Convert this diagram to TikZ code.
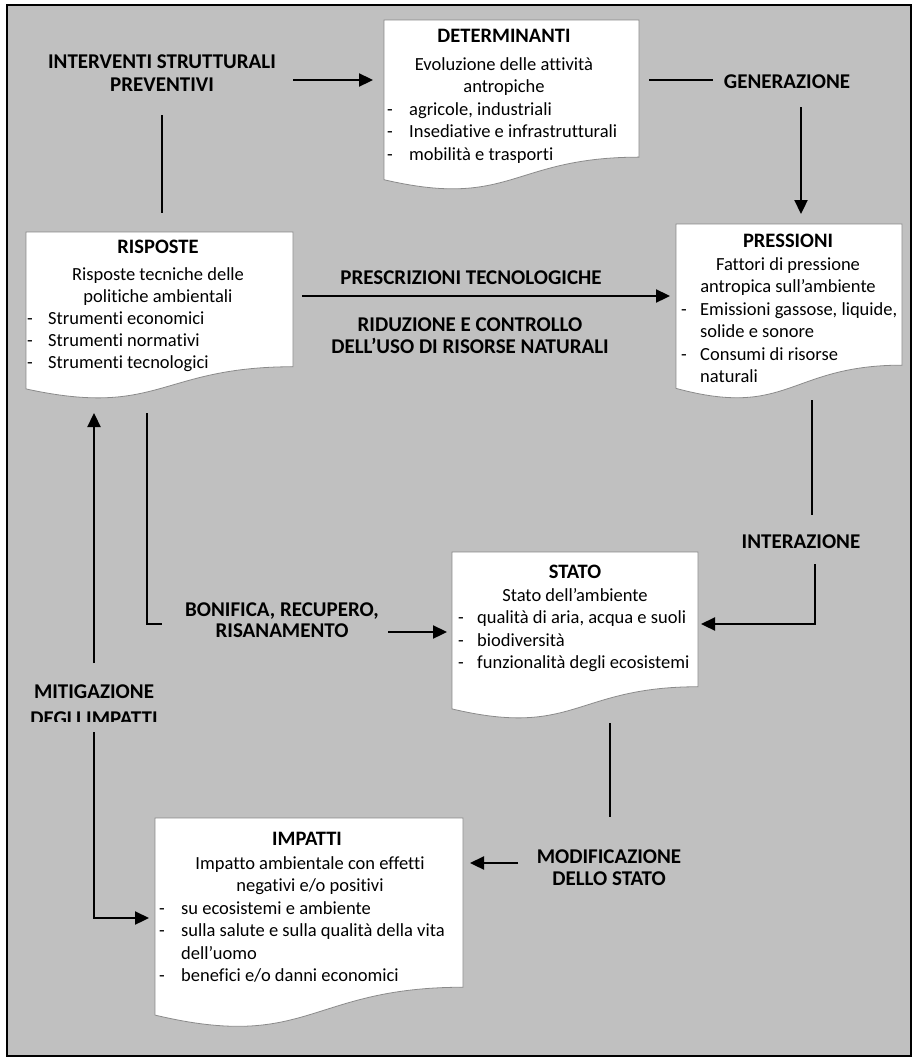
\documentclass[tikz,border=0pt]{standalone}
\usepackage{fontspec}
\setmainfont{Carlito}[Ligatures={NoCommon,NoContextual}]
\usetikzlibrary{arrows.meta}
\definecolor{bg}{HTML}{C0C0C0}
\definecolor{docline}{HTML}{8A8A8A}
% document shape: name, x0, y0, x1, h
\newcommand\docshp[5]{%
  \path[docshape] (#2,#3) -- (#4,#3) -- (#4,{#3+0.802*#5})
    .. controls ({(#2+#4)/2},{#3+0.802*#5}) and ({(#2+#4)/2},{#3+1.1075*#5}) .. (#2,{#3+0.934*#5}) -- cycle;
  \coordinate (#1) at ({(#2+#4)/2},#3);}
% list item: name, dash x, text x, baseline y, text
\newcommand\itmline[5]{%
  \node[itm] (#1d) at (#2,#4) {-};
  \node[itm] (#1) at (#3,#4) {#5};}
\begin{document}
\begin{tikzpicture}[x=1pt,y=-1pt,
  ttl/.style={font=\bfseries\fontsize{20.5}{22}\selectfont, anchor=base, inner sep=0},
  txt/.style={font=\fontsize{18.5}{22}\selectfont, anchor=base, inner sep=0},
  itm/.style={txt, anchor=base west},
  lbl/.style={font=\bfseries\fontsize{21}{22}\selectfont, anchor=base, inner sep=0},
  conn/.style={line width=2.3pt, draw=black},
  arr/.style={conn, -{Triangle[length=14pt,width=13pt]}},
  docshape/.style={fill=white, draw=docline, line width=0.8pt}]
\path[use as bounding box] (0,0) rectangle (914,1060);
\draw[fill=bg, draw=black, line width=1.2pt] (7,5) rectangle (911,1056);

% ---------- document shapes ----------
\docshp{det}{384}{20}{639}{171}
\docshp{risp}{26}{232}{293}{168}
\docshp{press}{676}{224}{902}{176}
\docshp{stato}{452}{552}{698}{168}
\docshp{imp}{155}{818}{463}{211}

% DETERMINANTI
\node[ttl] (detT) at (504,42) {DETERMINANTI};
\node[txt] (det1) at (504,70) {Evoluzione delle attività};
\node[txt] (det2) at (504,92) {antropiche};
\itmline{det3}{387}{409}{115}{agricole, industriali}
\itmline{det4}{387}{409}{137.5}{Insediative e infrastrutturali}
\itmline{det5}{387}{409}{160}{mobilità e trasporti}

% RISPOSTE
\node[ttl] (rispT) at (158,253) {RISPOSTE};
\node[txt] (risp1) at (158,280) {Risposte tecniche delle};
\node[txt] (risp2) at (158,302) {politiche ambientali};
\itmline{risp3}{27}{48}{324}{Strumenti economici}
\itmline{risp4}{27}{48}{346}{Strumenti normativi}
\itmline{risp5}{27}{48}{368}{Strumenti tecnologici}

% PRESSIONI
\node[ttl] (pressT) at (788,247) {PRESSIONI};
\node[txt] (press1) at (788,270) {Fattori di pressione};
\node[txt] (press2) at (788,292.5) {antropica sull’ambiente};
\itmline{press3}{681}{700}{315}{Emissioni gassose, liquide,}
\node[itm] (press4) at (700,337.5) {solide e sonore};
\itmline{press5}{681}{700}{360}{Consumi di risorse}
\node[itm] (press6) at (700,382.5) {naturali};

% STATO
\node[ttl] (statoT) at (575,578) {STATO};
\node[txt] (stato1) at (575,601) {Stato dell’ambiente};
\itmline{stato2}{458}{477}{623.5}{qualità di aria, acqua e suoli}
\itmline{stato3}{458}{477}{646}{biodiversità}
\itmline{stato4}{458}{477}{668.5}{funzionalità degli ecosistemi}

% IMPATTI
\node[ttl] (impT) at (307,845) {IMPATTI};
\node[txt] (imp1) at (310,869) {Impatto ambientale con effetti};
\node[txt] (imp2) at (310,891.5) {negativi e/o positivi};
\itmline{imp3}{159}{181}{914}{su ecosistemi e ambiente}
\itmline{imp4}{159}{181}{936.5}{sulla salute e sulla qualità della vita}
\node[itm] (imp5) at (181,959) {dell’uomo};
\itmline{imp6}{159}{181}{981.5}{benefici e/o danni economici}

% ---------- labels ----------
\node[lbl] (intA) at (162,68) {INTERVENTI STRUTTURALI};
\node[lbl] (intB) at (162,91) {PREVENTIVI};
\node[lbl] (gen) at (787,88) {GENERAZIONE};
\node[lbl] (presc) at (471,284) {PRESCRIZIONI TECNOLOGICHE};
\node[lbl] (ridA) at (470,331) {RIDUZIONE E CONTROLLO};
\node[lbl] (ridB) at (470,353) {DELL’USO DI RISORSE NATURALI};
\node[lbl] (inter) at (801,548) {INTERAZIONE};
\node[lbl] (bonA) at (282,616) {BONIFICA, RECUPERO,};
\node[lbl] (bonB) at (282,637) {RISANAMENTO};
\node[lbl] (mitA) at (94,698) {MITIGAZIONE};
\begin{scope}
  \clip (10,700) rectangle (300,721);
  \node[lbl] (mitB) at (94,725) {DEGLI IMPATTI};
\end{scope}
\node[lbl] (modA) at (609,863) {MODIFICAZIONE};
\node[lbl] (modB) at (609,885) {DELLO STATO};

% ---------- connector end points ----------
\coordinate (c1s) at (293,80);  \coordinate (c1e) at (373,80);
\coordinate (c2s) at (162,115); \coordinate (c2e) at (162,213);
\coordinate (c3s) at (649,80);  \coordinate (c3e) at (713,80);
\coordinate (c4s) at (801,107); \coordinate (c4e) at (801,214);
\coordinate (c5s) at (302,296); \coordinate (c5e) at (670,296);
\coordinate (c6s) at (812,400); \coordinate (c6e) at (812,515);
\coordinate (c7s) at (815,564); \coordinate (c7m) at (815,624); \coordinate (c7e) at (701,624);
\coordinate (c8s) at (147,413); \coordinate (c8m) at (147,624); \coordinate (c8e) at (162,624);
\coordinate (c9s) at (388,632); \coordinate (c9e) at (447,632);
\coordinate (c10s) at (94,663); \coordinate (c10e) at (94,413);
\coordinate (c11s) at (94,732); \coordinate (c11m) at (94,918); \coordinate (c11e) at (149,918);
\coordinate (c12s) at (610,723); \coordinate (c12e) at (610,817);
\coordinate (c13s) at (518,863); \coordinate (c13e) at (470,863);

% ---------- connectors ----------
\draw[arr] (c1s) -- (c1e);
\draw[conn] (c2s) -- (c2e);
\draw[conn] (c3s) -- (c3e);
\draw[arr] (c4s) -- (c4e);
\draw[arr] (c5s) -- (c5e);
\draw[conn] (c6s) -- (c6e);
\draw[arr] (c7s) -- (c7m) -- (c7e);
\draw[conn] (c8s) -- (c8m) -- (c8e);
\draw[arr] (c9s) -- (c9e);
\draw[arr] (c10s) -- (c10e);
\draw[arr] (c11s) -- (c11m) -- (c11e);
\draw[conn] (c12s) -- (c12e);
\draw[arr] (c13s) -- (c13e);
\end{tikzpicture}
\end{document}
